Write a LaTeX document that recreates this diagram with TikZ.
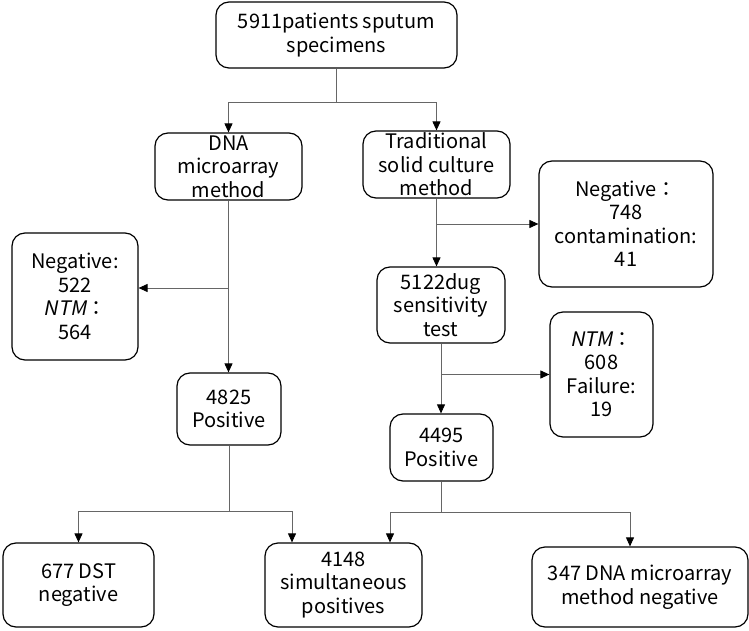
\documentclass[tikz,border=0pt]{standalone}
\usepackage{fontspec}
\setmainfont{Noto Sans CJK TC}[AutoFakeSlant=0.2]
\usetikzlibrary{arrows.meta}
\tikzset{
  box/.style={draw=black, line width=1.2pt, rounded corners=13pt, align=center,
    inner sep=0pt, font=\fontsize{20}{23.5}\selectfont},
  wire/.style={draw=black!60, line width=0.9pt},
  wirearrow/.style={wire, -{Triangle[length=9pt,width=8pt,color=black]}},
}

\begin{document}
\begin{tikzpicture}[x=1pt, y=1pt]
	\useasboundingbox (0,0) rectangle (749,630);
	% boxes
	\node[box, minimum width=241pt, minimum height=66pt] (top) at (336.5,595) {5911patients sputum\\specimens};
	\node[box, minimum width=147pt, minimum height=67pt] (dna) at (228.5,463.5) {DNA\\microarray\\method};
	\node[box, minimum width=147pt, minimum height=67pt] (trad) at (436.5,465.5) {Traditional\\solid culture\\method};
	\node[box, minimum width=126pt, minimum height=127pt] (negA) at (75,333.5) {Negative:\\522\\\textit{NTM}：\\564};
	\node[box, minimum width=174pt, minimum height=126pt] (negB) at (626,406) {Negative：\\748\\contamination:\\41};
	\node[box, minimum width=128pt, minimum height=76pt] (dst) at (441,325) {5122dug\\sensitivity\\test};
	\node[box, minimum width=104pt, minimum height=72pt] (posA) at (229,221) {4825\\Positive};
	\node[box, minimum width=103pt, minimum height=125pt] (ntm) at (601.5,255.5) {\textit{NTM}：\\608\\Failure:\\19};
	\node[box, minimum width=103pt, minimum height=67pt] (posB) at (441.5,182.5) {4495\\Positive};
	\node[box, minimum width=151pt, minimum height=84pt] (dstneg) at (78.5,45) {677 DST\\negative};
	\node[box, minimum width=157pt, minimum height=84pt] (both) at (343.5,45) {4148\\simultaneous\\positives};
	\node[box, minimum width=216pt, minimum height=80pt] (dnaneg) at (640,43) {347 DNA microarray\\method negative};
	% connectors
	\draw[wire] (top.south) -- (336.5,528) coordinate (splitA);
	\draw[wirearrow] (splitA) -| (dna.north);
	\draw[wirearrow] (splitA) -| (trad.north);
	\draw[wirearrow] (dna.south) -- (dna.south |- posA.north);
	\coordinate (branchA) at (228.5,342);
	\draw[wirearrow] (branchA) -- (branchA -| negA.east);
	\draw[wirearrow] (trad.south) -- (trad.south |- dst.north);
	\draw[wirearrow] (trad.south |- negB.west) -- (negB.west);
	\draw[wirearrow] (dst.south) -- (dst.south |- posB.north);
	\draw[wirearrow] (dst.south |- ntm.west) -- (ntm.west);
	\draw[wire] (posA.south) -- (229,119) coordinate (splitB);
	\draw[wirearrow] (splitB) -| (dstneg.north);
	\draw[wirearrow] (splitB) -| ([xshift=-51.5pt]both.north);
	\draw[wire] (posB.south) -- (441.5,118) coordinate (splitC);
	\draw[wirearrow] (splitC) -| ([xshift=46.5pt]both.north);
	\draw[wirearrow] (splitC) -| ([xshift=-10pt]dnaneg.north);
\end{tikzpicture}
\end{document}
